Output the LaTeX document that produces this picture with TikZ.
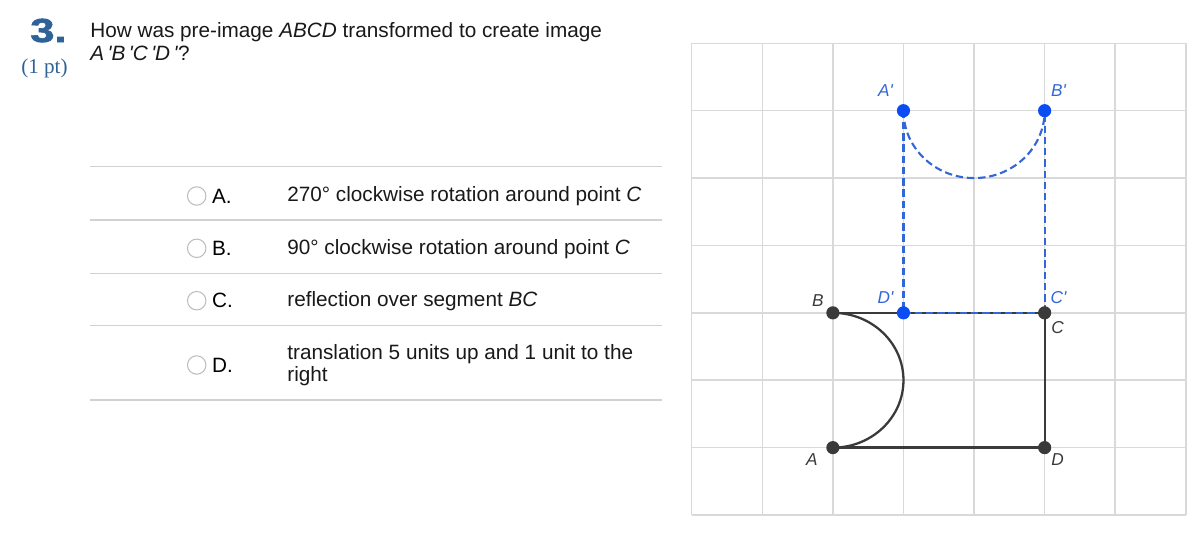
\documentclass[tikz,border=0pt]{standalone}
\usepackage{fontspec}
\setmainfont{Liberation Sans}
\newfontfamily\serifpt{Liberation Serif}
\newfontfamily\numfont[FakeBold=1.8]{Liberation Sans}
\usetikzlibrary{positioning}
\definecolor{gridgray}{HTML}{D9D9D9}
\definecolor{rulegray}{HTML}{D2D2D2}
\definecolor{radiogray}{HTML}{BDBDBD}
\definecolor{shapegray}{HTML}{3A3A3A}
\definecolor{imgblue}{HTML}{3366D6}
\definecolor{dotblue}{HTML}{0B4DF2}
\definecolor{numblue}{HTML}{2F6398}
\tikzset{
    qtxt/.style={anchor=base west, inner sep=0pt, font=\fontsize{11.8}{14}\selectfont, text=black!90},
    sepline/.style={draw=rulegray, line width=0.7pt},
    radio/.style={draw=radiogray, circle, line width=0.6pt, minimum size=10.5pt, inner sep=0pt},
    optlbl/.style={inner sep=0pt, font=\fontsize{11.8}{14}\selectfont},
    gridline/.style={draw=gridgray, line width=0.85pt},
    preline/.style={draw=shapegray, line width=1.3pt},
    imgline/.style={draw=imgblue, line width=1.2pt, dash pattern=on 4.2pt off 2.2pt},
    ptdot/.style={circle, fill=shapegray, inner sep=0pt, minimum size=7.5pt},
    bluedot/.style={circle, fill=dotblue, inner sep=0pt, minimum size=7.5pt},
    lbl/.style={inner sep=0pt, text=shapegray, font=\fontsize{9.8}{11}\selectfont\itshape},
    bluelbl/.style={lbl, text=imgblue}
}

\begin{document}
\begin{tikzpicture}[x=0.02cm, y=-0.02cm]
\useasboundingbox (0,0) rectangle (1200,548);

% question heading
\node[anchor=base west, inner sep=0pt, text=numblue, font=\fontsize{19}{20}\numfont\bfseries] (num) at (30,42) {\scalebox{1.3}[1]{3.}};
\node[anchor=base west, inner sep=0pt, text=numblue, font=\fontsize{12}{14}\serifpt] (pts) at (21,73) {(1 pt)};
\node[qtxt] (q1) at (90,37) {How was pre-image \textit{ABCD} transformed to create image};
\node[qtxt] (q2) at (90,60) {\textit{A\,\textquotesingle B\,\textquotesingle C\,\textquotesingle D\,\textquotesingle}?};

% answer choices
\foreach \y in {166.7,220,273.3,325.7,400}
    \draw[sepline] (90,\y) -- (662,\y);

\node[radio] (rA) at (196.7,196) {};
\node[optlbl, right=3pt of rA] (lA) {A.};
\node[qtxt] (tA) at (287,201.7) {270° clockwise rotation around point \textit{C}};

\node[radio] (rB) at (196.7,248.3) {};
\node[optlbl, right=3pt of rB] (lB) {B.};
\node[qtxt] (tB) at (287,254.3) {90° clockwise rotation around point \textit{C}};

\node[radio] (rC) at (196.7,300.7) {};
\node[optlbl, right=3pt of rC] (lC) {C.};
\node[qtxt] (tC) at (287,306.7) {reflection over segment \textit{BC}};

\node[radio] (rD) at (196.7,365) {};
\node[optlbl, right=3pt of rD] (lD) {D.};
\node[qtxt] (tD) at (287,359.3) {translation 5 units up and 1 unit to the};
\node[qtxt] (tD2) at (287,381.7) {right};

% coordinate grid
\begin{scope}[shift={(691.7,43.3)}, x=1.412cm, y=-1.348cm]
    \foreach \k in {0,...,7} {
        \draw[gridline] (\k,0) -- (\k,7);
        \draw[gridline] (0,\k) -- (7,\k);
    }

    \coordinate (A) at (2,6);
    \coordinate (B) at (2,4);
    \coordinate (C) at (5,4);
    \coordinate (D) at (5,6);
    \coordinate (Ap) at (3,1);
    \coordinate (Bp) at (5,1);
    \coordinate (Cp) at (5,4);
    \coordinate (Dp) at (3,4);

    % pre-image
    \draw[preline] (B) -- (C) -- (D) -- (A);
    \draw[preline] (B) arc[start angle=90, end angle=-90, x radius=1.412cm, y radius=1.348cm];

    % image
    \draw[imgline] (Ap) -- (Dp);
    \draw[imgline] (Dp) -- (Cp);
    \draw[imgline] (Cp) -- (Bp);
    \draw[imgline] (Ap) arc[start angle=180, end angle=360, x radius=1.412cm, y radius=1.348cm];

    \foreach \p in {Ap,Bp,Dp}
        \node[bluedot] (dot\p) at (\p) {};
    \foreach \p in {A,B,C,D}
        \node[ptdot] (dot\p) at (\p) {};

    \node[bluelbl, xshift=-10.2pt, yshift=11.3pt] (labAp) at (Ap) {A\textquotesingle};
    \node[bluelbl, xshift=7.9pt, yshift=11.3pt] (labBp) at (Bp) {B\textquotesingle};
    \node[bluelbl, xshift=7.9pt, yshift=8.5pt] (labCp) at (Cp) {C\textquotesingle};
    \node[bluelbl, xshift=-10.2pt, yshift=8.5pt] (labDp) at (Dp) {D\textquotesingle};
    \node[lbl, xshift=-8.5pt, yshift=6.8pt] (labB) at (B) {B};
    \node[lbl, xshift=7.4pt, yshift=-8.5pt] (labC) at (C) {C};
    \node[lbl, xshift=-11.9pt, yshift=-6.8pt] (labA) at (A) {A};
    \node[lbl, xshift=7.4pt, yshift=-6.8pt] (labD) at (D) {D};
\end{scope}
\end{tikzpicture}
\end{document}
